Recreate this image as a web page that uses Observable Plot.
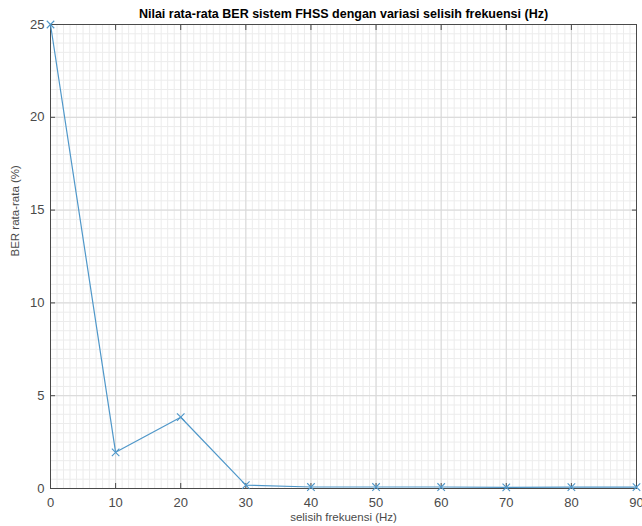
<!DOCTYPE html>
<html>
<head>
<meta charset="utf-8">
<script src="https://cdn.jsdelivr.net/npm/d3@7"></script>
<script src="https://cdn.jsdelivr.net/npm/@observablehq/plot@0.6"></script>
<style>
  html, body { margin: 0; padding: 0; background: #fff; }
  #chart svg { display: block; font-family: "Liberation Sans", Arial, sans-serif; }
</style>
</head>
<body>
<div id="chart"></div>
<script>
// Data
const freq = [0, 10, 20, 30, 40, 50, 60, 70, 80, 90];
const ber = [25, 1.95, 3.84, 0.18, 0.08, 0.08, 0.08, 0.06, 0.07, 0.07];

// Axis ticks and labels
const xTicks = [0, 10, 20, 30, 40, 50, 60, 70, 80, 90];
const yTicks = [0, 5, 10, 15, 20, 25];
const xMinorStep = 1;
const yMinorStep = 0.5;
const titleText = "Nilai rata-rata BER sistem FHSS dengan variasi selisih frekuensi (Hz)";
const xLabel = "selisih frekuensi (Hz)";
const yLabel = "BER rata-rata (%)";

const data = freq.map((f, i) => ({freq: f, ber: ber[i]}));
const xMinor = d3.range(0, 90 + 1e-9, xMinorStep);
const yMinor = d3.range(0, 25 + 1e-9, yMinorStep);

const lineColor = "#4f97c9";
const axisColor = "#4a4a4a";

const chart = Plot.plot({
  width: 642,
  height: 526,
  marginLeft: 50,
  marginRight: 6,
  marginTop: 24,
  marginBottom: 38,
  style: {fontFamily: "'Liberation Sans', Arial, sans-serif", background: "#fff"},
  x: {domain: [0, 90]},
  y: {domain: [0, 25]},
  marks: [
    Plot.gridX(xMinor, {stroke: "#ececec", strokeOpacity: 1}),
    Plot.gridY(yMinor, {stroke: "#ececec", strokeOpacity: 1}),
    Plot.gridX(xTicks, {stroke: "#d8d8d8", strokeOpacity: 1}),
    Plot.gridY(yTicks, {stroke: "#d8d8d8", strokeOpacity: 1}),
    Plot.axisX({ticks: xTicks, anchor: "bottom", tickSize: 0, tickPadding: 9, label: null, fontSize: 13, fill: axisColor}),
    Plot.axisY({ticks: yTicks, anchor: "left", tickSize: 0, tickPadding: 6, label: null, fontSize: 13, fill: axisColor}),
    Plot.axisX({ticks: xTicks, anchor: "bottom", tickSize: -5, fill: "none", label: null, stroke: axisColor}),
    Plot.axisX({ticks: xTicks, anchor: "top", tickSize: -5, fill: "none", label: null, stroke: axisColor}),
    Plot.axisY({ticks: yTicks, anchor: "left", tickSize: -5, fill: "none", label: null, stroke: axisColor}),
    Plot.axisY({ticks: yTicks, anchor: "right", tickSize: -5, fill: "none", label: null, stroke: axisColor}),
    Plot.frame({stroke: axisColor, strokeWidth: 1}),
    Plot.line(data, {x: "freq", y: "ber", stroke: lineColor, strokeWidth: 1.2}),
    Plot.dot(data, {x: "freq", y: "ber", symbol: "times", r: 3.5, stroke: lineColor, strokeWidth: 1.1}),
    Plot.text([titleText], {frameAnchor: "top", dy: -11, fontWeight: "bold", fontSize: 12.5, fill: "#000", lineAnchor: "middle"}),
    Plot.text([xLabel], {frameAnchor: "bottom", dy: 29, fontSize: 11.5, fill: axisColor, lineAnchor: "middle"}),
    Plot.text([yLabel], {frameAnchor: "left", dx: -35, rotate: -90, fontSize: 11.5, fill: axisColor, lineAnchor: "middle"})
  ]
});
document.getElementById("chart").appendChild(chart);
</script>
</body>
</html>
